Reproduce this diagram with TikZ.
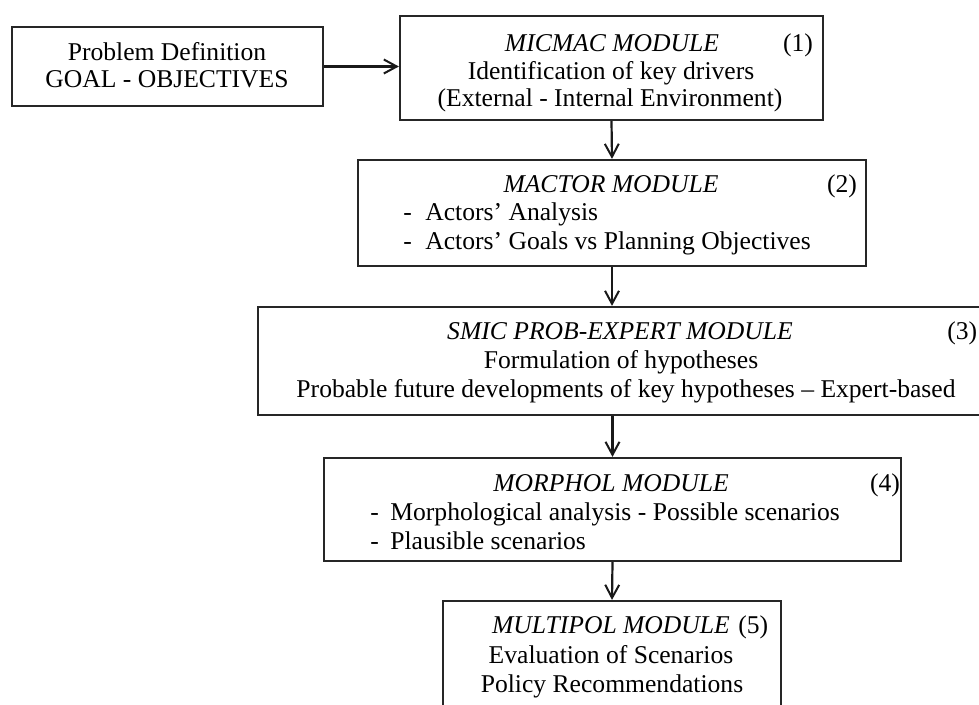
\documentclass[tikz,border=0pt]{standalone}
\usepackage{fontspec}
\setmainfont{Liberation Serif}
\usetikzlibrary{arrows.meta}
\begin{document}
\begin{tikzpicture}[x=0.5pt,y=-0.5pt,
  box/.style={draw=black!85, line width=1.1pt, rectangle, inner sep=0pt},
  txt/.style={anchor=base, inner sep=0pt, font=\fontsize{12.8}{14.5}\selectfont},
  ltxt/.style={txt, anchor=base west},
  arr/.style={draw=black!90, line width=1.1pt, -{Straight Barb[length=6.5pt,width=7pt,line width=1pt]}}
]
\useasboundingbox (0,0) rectangle (979,705);
\clip (0,0) rectangle (979,705);

% boxes
\node[box, minimum width=155.5pt, minimum height=39.5pt] (p)  at (167.5,66.5) {};
\node[box, minimum width=211.5pt, minimum height=52pt]   (b1) at (611.5,68) {};
\node[box, minimum width=254pt,   minimum height=53pt]   (b2) at (612,213) {};
\node[box, minimum width=364pt,   minimum height=54pt]   (b3) at (622,361) {};
\node[box, minimum width=288.5pt, minimum height=51.5pt] (b4) at (612.5,509.5) {};
\node[box, minimum width=169pt,   minimum height=59.5pt] (b5) at (612,660.5) {};

% problem definition
\node[txt] (p1) at (167,61) {Problem Definition};
\node[txt] (p2) at (167,88) {GOAL - OBJECTIVES};

% module 1
\node[txt] (t1a) at (612,52) {\itshape MICMAC MODULE};
\node[txt] (n1)  at (798,52) {(1)};
\node[txt] (t1b) at (611,80) {Identification of key drivers};
\node[txt] (t1c) at (610,107) {(External - Internal Environment)};

% module 2
\node[txt]  (t2a) at (611,193) {\itshape MACTOR MODULE};
\node[txt]  (n2)  at (842,193) {(2)};
\node[ltxt] (t2b) at (403,221) {\makebox[11pt][l]{-}Actors’ Analysis};
\node[ltxt] (t2c) at (403,250) {\makebox[11pt][l]{-}Actors’ Goals vs Planning Objectives};

% module 3
\node[txt] (t3a) at (620,340) {\itshape SMIC PROB-EXPERT MODULE};
\node[ltxt] (n3) at (947,340) {(3)};
\node[txt] (t3b) at (621,369) {Formulation of hypotheses};
\node[txt] (t3c) at (626,398) {Probable future developments of key hypotheses – Expert-based};

% module 4
\node[txt]  (t4a) at (611,491) {\itshape MORPHOL MODULE};
\node[txt]  (n4)  at (885,491) {(4)};
\node[ltxt] (t4b) at (370,520) {\makebox[10pt][l]{-}Morphological analysis - Possible scenarios};
\node[ltxt] (t4c) at (370,549) {\makebox[10pt][l]{-}Plausible scenarios};

% module 5
\node[txt]  (t5a) at (611,633) {\itshape MULTIPOL MODULE};
\node[ltxt] (n5)  at (738,633) {(5)};
\node[txt]  (t5b) at (611,663) {Evaluation of Scenarios};
\node[txt]  (t5c) at (612,692) {Policy Recommendations};

% connectors
\draw[arr] (p.east) -- (p.east -| b1.west);
\draw[arr] (b1.south) -- (b2.north);
\draw[arr] (b2.south) -- (b2.south |- b3.north);
\draw[arr] (b4.north |- b3.south) -- (b4.north);
\draw[arr] (b4.south) -- (b5.north);
\end{tikzpicture}
\end{document}
